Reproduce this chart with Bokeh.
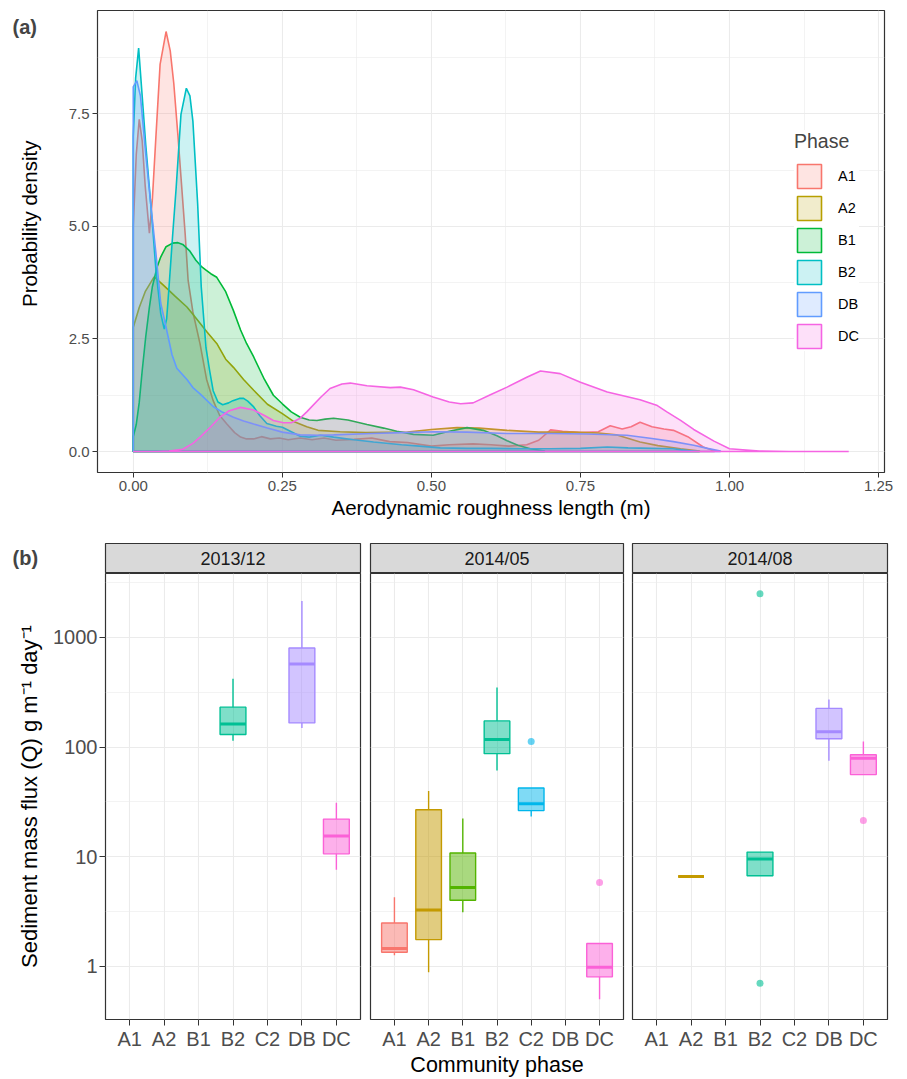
from bokeh.plotting import figure
from bokeh.models import (FixedTicker, Legend, LegendItem, Label, FactorRange, Range1d,
                          PrintfTickFormatter, ColumnDataSource)
from bokeh.layouts import column, row
from bokeh.embed import file_html
from bokeh.resources import INLINE

FONT = "Liberation Sans"
TICK_COL = "#4D4D4D"
FRAME_COL = "#333333"
GRID_COL = "#EBEBEB"

# ---------------- (a) density curves ----------------
density_phases = ["A1", "A2", "B1", "B2", "DB", "DC"]
density_colors = ["#F8766D", "#B79F00", "#00BA38", "#00BFC4", "#619CFF", "#F564E3"]

a1_x = [0.0, 0.005, 0.010, 0.015, 0.020, 0.027, 0.032, 0.038, 0.045, 0.055, 0.062, 0.068,
        0.075, 0.080, 0.087, 0.092, 0.100, 0.112, 0.123, 0.134, 0.145, 0.157, 0.170, 0.180,
        0.190, 0.202, 0.215, 0.230, 0.245, 0.26, 0.28, 0.30, 0.32, 0.34, 0.37, 0.40, 0.43,
        0.46, 0.50, 0.53, 0.57, 0.60, 0.63, 0.66, 0.68, 0.70, 0.72, 0.75, 0.78, 0.80, 0.82,
        0.835, 0.85, 0.87, 0.89, 0.906, 0.93, 0.956, 0.975]
a1_y = [5.0, 6.6, 7.38, 6.9, 5.9, 4.85, 5.6, 7.0, 8.6, 9.33, 8.9, 8.17,
        7.0, 6.1, 4.84, 3.8, 3.1, 2.39, 1.6, 1.13, 0.8, 0.61, 0.42, 0.32,
        0.28, 0.28, 0.33, 0.28, 0.30, 0.26, 0.30, 0.26, 0.30, 0.25, 0.27, 0.30, 0.22,
        0.20, 0.12, 0.15, 0.17, 0.15, 0.12, 0.15, 0.25, 0.48, 0.45, 0.42, 0.44, 0.57, 0.50,
        0.55, 0.65, 0.55, 0.50, 0.47, 0.33, 0.10, 0.01]

a2_x = [0.0, 0.01, 0.02, 0.035, 0.05, 0.07, 0.09, 0.10, 0.124, 0.14, 0.155, 0.168, 0.185,
        0.202, 0.225, 0.25, 0.27, 0.291, 0.31, 0.347, 0.39, 0.46, 0.50, 0.543, 0.58, 0.627,
        0.68, 0.738, 0.78, 0.81, 0.85, 0.88, 0.918, 0.95]
a2_y = [2.76, 3.2, 3.55, 3.88, 3.7, 3.45, 3.21, 3.05, 2.65, 2.4, 2.05, 1.87, 1.6,
        1.36, 1.05, 0.84, 0.66, 0.55, 0.47, 0.44, 0.42, 0.43, 0.49, 0.53, 0.52, 0.47,
        0.43, 0.43, 0.41, 0.37, 0.21, 0.13, 0.06, 0.01]

b1_x = [0.0, 0.005, 0.01, 0.015, 0.021, 0.027, 0.032, 0.04, 0.046, 0.055, 0.066, 0.075,
        0.083, 0.095, 0.105, 0.115, 0.122, 0.13, 0.14, 0.155, 0.168, 0.18, 0.19, 0.202,
        0.22, 0.235, 0.25, 0.265, 0.28, 0.295, 0.308, 0.322, 0.336, 0.36, 0.392, 0.42,
        0.442, 0.47, 0.503, 0.53, 0.56, 0.587, 0.61, 0.627, 0.645, 0.666, 0.69]
b1_y = [0.33, 0.6, 1.09, 1.8, 2.56, 3.2, 3.66, 4.1, 4.32, 4.55, 4.63, 4.64,
        4.6, 4.45, 4.25, 4.1, 4.03, 3.95, 3.87, 3.55, 3.13, 2.7, 2.4, 2.1,
        1.6, 1.25, 1.06, 0.88, 0.76, 0.70, 0.69, 0.72, 0.74, 0.70, 0.60, 0.52,
        0.45, 0.38, 0.36, 0.45, 0.53, 0.47, 0.35, 0.24, 0.14, 0.06, 0.01]

b2_x = [0.0, 0.004, 0.009, 0.016, 0.021, 0.027, 0.033, 0.038, 0.046, 0.052, 0.056, 0.06,
        0.066, 0.072, 0.08, 0.089, 0.095, 0.1, 0.108, 0.114, 0.122, 0.128, 0.134, 0.142,
        0.15, 0.16, 0.167, 0.178, 0.185, 0.192, 0.202, 0.212, 0.224, 0.24, 0.25, 0.265,
        0.28, 0.295, 0.314, 0.336, 0.37, 0.403, 0.45, 0.48, 0.515, 0.56, 0.6, 0.65, 0.7,
        0.75, 0.795, 0.83, 0.87, 0.905, 0.93, 0.95]
b2_y = [7.0, 8.3, 8.96, 7.71, 6.8, 5.87, 4.9, 4.03, 3.07, 2.72, 2.95, 3.66,
        4.8, 5.87, 7.49, 8.07, 7.9, 7.34, 5.5, 3.66, 2.3, 1.8, 1.35, 1.1,
        1.04, 1.08, 1.13, 1.18, 1.18, 1.12, 0.99, 0.8, 0.62, 0.56, 0.54, 0.44,
        0.34, 0.32, 0.36, 0.32, 0.26, 0.21, 0.15, 0.12, 0.08, 0.07, 0.07, 0.06, 0.06,
        0.07, 0.10, 0.08, 0.07, 0.06, 0.02, 0.0]

db_x = [0.0, 0.006, 0.012, 0.021, 0.03, 0.038, 0.046, 0.056, 0.065, 0.073, 0.09, 0.1,
        0.112, 0.134, 0.15, 0.168, 0.185, 0.202, 0.225, 0.25, 0.28, 0.31, 0.336, 0.4,
        0.45, 0.504, 0.56, 0.627, 0.7, 0.76, 0.828, 0.87, 0.906, 0.94, 0.963, 0.985]
db_y = [8.1, 8.24, 7.9, 6.6, 5.4, 4.4, 3.3, 2.7, 2.15, 1.85, 1.6, 1.42,
        1.28, 1.0, 0.87, 0.76, 0.68, 0.61, 0.52, 0.43, 0.37, 0.36, 0.37, 0.40,
        0.42, 0.44, 0.43, 0.40, 0.40, 0.39, 0.36, 0.29, 0.22, 0.14, 0.07, 0.01]

dc_x = [0.0, 0.04, 0.06, 0.083, 0.1, 0.112, 0.13, 0.145, 0.16, 0.18, 0.202, 0.22, 0.235,
        0.252, 0.265, 0.28, 0.291, 0.314, 0.33, 0.35, 0.364, 0.392, 0.431, 0.448, 0.47,
        0.503, 0.53, 0.549, 0.57, 0.599, 0.627, 0.66, 0.683, 0.716, 0.75, 0.795, 0.85,
        0.879, 0.895, 0.918, 0.94, 0.974, 1.0, 1.05, 1.1, 1.2]
dc_y = [0.0, 0.0, 0.01, 0.05, 0.18, 0.32, 0.55, 0.76, 0.9, 0.98, 0.92, 0.8, 0.69,
        0.64, 0.64, 0.74, 0.88, 1.2, 1.4, 1.5, 1.52, 1.46, 1.42, 1.43, 1.37,
        1.21, 1.1, 1.06, 1.08, 1.26, 1.43, 1.65, 1.79, 1.73, 1.54, 1.32, 1.15,
        1.02, 0.88, 0.69, 0.49, 0.23, 0.06, 0.01, 0.0, 0.0]

density_x = [a1_x, a2_x, b1_x, b2_x, db_x, dc_x]
density_y = [a1_y, a2_y, b1_y, b2_y, db_y, dc_y]

a_xticks = [0.0, 0.25, 0.5, 0.75, 1.0, 1.25]
a_xminor = [0.125, 0.375, 0.625, 0.875, 1.125]
a_yticks = [0.0, 2.5, 5.0, 7.5]
a_yminor = [1.25, 3.75, 6.25, 8.75]

# ---------------- (b) boxplots ----------------
phases = ["A1", "A2", "B1", "B2", "C2", "DB", "DC"]
phase_colors = ["#F8766D", "#C49A00", "#53B400", "#00C094", "#00B6EB", "#A58AFF", "#FB61D7"]
facet_titles = ["2013/12", "2014/05", "2014/08"]

f1_phase = ["B2", "DB", "DC"]
f1_low = [114, 149, 7.6]
f1_q1 = [130, 166, 10.6]
f1_med = [162, 573, 15.4]
f1_q3 = [231, 800, 22.0]
f1_high = [420, 2150, 31.0]
f1_out_phase = []
f1_out_val = []

f2_phase = ["A1", "A2", "B1", "B2", "C2", "DC"]
f2_low = [1.26, 0.88, 3.1, 61, 23.2, 0.50]
f2_q1 = [1.34, 1.75, 4.0, 87, 26.3, 0.80]
f2_med = [1.45, 3.25, 5.24, 117, 30.3, 0.98]
f2_q3 = [2.48, 26.8, 10.8, 173, 42.3, 1.61]
f2_high = [4.25, 39.6, 22.3, 349, 42.3, 1.61]
f2_out_phase = ["C2", "DC"]
f2_out_val = [112, 5.8]

f3_phase = ["A2", "B2", "DB", "DC"]
f3_low = [6.6, 6.7, 75, 56]
f3_q1 = [6.6, 6.7, 119, 56]
f3_med = [6.6, 9.5, 138, 79]
f3_q3 = [6.6, 11.0, 225, 85]
f3_high = [6.6, 11.0, 272, 112]
f3_out_phase = ["B2", "B2", "DC"]
f3_out_val = [2500, 0.70, 21.4]

b_yticks = [1, 10, 100, 1000]
b_yminor = [0.316, 3.16, 31.6, 316, 3162]


def side_figure(w, h):
    """A bare figure whose data units equal pixels, used to hold side texts."""
    s = figure(width=w, height=h, x_range=Range1d(0, w), y_range=Range1d(0, h),
               x_axis_location=None, y_axis_location=None, output_backend="svg",
               toolbar_location=None, min_border_left=0, min_border_right=0,
               min_border_top=0, min_border_bottom=0)
    s.grid.visible = False
    s.outline_line_color = None
    s.background_fill_color = "white"
    s.border_fill_color = "white"
    return s


# =============================== panel (a) ===============================
SIDE_A_W, A_H = 62, 522
side_a = side_figure(SIDE_A_W, A_H)
side_a.add_layout(Label(x=12, y=A_H - 19, text="(a)", text_font=FONT, text_font_style="bold",
                        text_font_size="20px", text_baseline="middle", text_align="left"))
side_a.add_layout(Label(x=29, y=A_H - 241, text="Probability density", angle=90,
                        angle_units="deg", text_font=FONT, text_font_size="20.5px",
                        text_baseline="middle", text_align="center", text_color="black"))

pa = figure(width=899 - SIDE_A_W, height=A_H, x_range=Range1d(-0.06, 1.26),
            y_range=Range1d(-0.4665, 9.797), output_backend="svg", toolbar_location=None,
            min_border_left=97 - SIDE_A_W, min_border_right=15, min_border_top=10,
            min_border_bottom=50)
pa.background_fill_color = "white"
pa.border_fill_color = "white"
pa.outline_line_color = FRAME_COL
pa.outline_line_width = 1.2

legend_items = []
for ph, col, xs, ys in zip(density_phases, density_colors, density_x, density_y):
    r = pa.patch(x=xs + [xs[-1], xs[0]], y=ys + [0, 0], fill_color=col, fill_alpha=0.2,
                 line_color=col, line_width=1.6)
    legend_items.append(LegendItem(label=ph, renderers=[r]))

pa.xaxis.ticker = FixedTicker(ticks=a_xticks, minor_ticks=a_xminor)
pa.yaxis.ticker = FixedTicker(ticks=a_yticks, minor_ticks=a_yminor)
pa.xaxis.formatter = PrintfTickFormatter(format="%.2f")
pa.yaxis.formatter = PrintfTickFormatter(format="%.1f")
pa.xaxis.axis_label = "Aerodynamic roughness length (m)"
for ax in (pa.xaxis, pa.yaxis):
    ax.axis_line_color = None
    ax.major_tick_line_color = FRAME_COL
    ax.major_tick_out = 5
    ax.major_tick_in = 0
    ax.minor_tick_line_color = None
    ax.major_label_text_font = FONT
    ax.major_label_text_font_size = "15px"
    ax.major_label_text_color = TICK_COL
    ax.major_label_standoff = 3
    ax.axis_label_text_font = FONT
    ax.axis_label_text_font_size = "20.5px"
    ax.axis_label_text_font_style = "normal"
    ax.axis_label_text_color = "black"
pa.xaxis.axis_label_standoff = 2
for g in (pa.xgrid, pa.ygrid):
    g.grid_line_color = GRID_COL
    g.grid_line_width = 1.1
    g.minor_grid_line_color = GRID_COL
    g.minor_grid_line_width = 0.6

legend = Legend(items=legend_items, title="Phase", location=(697, 121), padding=10, spacing=2,
                glyph_width=30, glyph_height=30, label_height=30, label_standoff=14,
                label_text_font=FONT, label_text_font_size="14.5px", label_text_color="black",
                title_text_font=FONT, title_text_font_size="19.5px", title_text_font_style="normal",
                title_standoff=8, border_line_color=None, background_fill_color="white",
                background_fill_alpha=1.0, margin=0)
pa.add_layout(legend)

# =============================== panel (b) ===============================
facets = [
    (f1_phase, f1_low, f1_q1, f1_med, f1_q3, f1_high, f1_out_phase, f1_out_val),
    (f2_phase, f2_low, f2_q1, f2_med, f2_q3, f2_high, f2_out_phase, f2_out_val),
    (f3_phase, f3_low, f3_q1, f3_med, f3_q3, f3_high, f3_out_phase, f3_out_val),
]
widths = [365, 262, 270]
borders_lr = [(105, 5), (5, 4), (5, 10)]
color_of = dict(zip(phases, phase_colors))

SIDE_B_W, STRIP_H = 50, 51
side_b = side_figure(SIDE_B_W, STRIP_H)
side_b.add_layout(Label(x=12, y=STRIP_H - 24, text="(b)", text_font=FONT, text_font_style="bold",
                        text_font_size="20px", text_baseline="middle", text_align="left"))

strips = [side_b]
panels = []
for i, (title, data, w, (bl, br)) in enumerate(zip(facet_titles, facets, widths, borders_lr)):
    sw = w - SIDE_B_W if i == 0 else w
    sbl = bl - SIDE_B_W if i == 0 else bl
    s = figure(width=sw, height=STRIP_H, x_range=Range1d(0, 1), y_range=Range1d(0, 1),
               output_backend="svg", toolbar_location=None,
               x_axis_location=None, y_axis_location=None,
               min_border_left=sbl, min_border_right=br, min_border_top=21, min_border_bottom=0)
    s.grid.visible = False
    s.background_fill_color = "#D9D9D9"
    s.border_fill_color = "white"
    s.outline_line_color = FRAME_COL
    s.outline_line_width = 1.2
    s.add_layout(Label(x=0.5, y=0.5, text=title, text_align="center", text_baseline="middle",
                       text_font=FONT, text_font_size="18px", text_color="#1A1A1A"))
    strips.append(s)

    ph, lo, q1, md, q3, hi, oph, oval = data
    f = figure(width=w, height=506,
               x_range=FactorRange(*phases, range_padding=0.2, range_padding_units="absolute"),
               y_range=Range1d(0.3266, 3828), y_axis_type="log",
               y_axis_location="left" if i == 0 else None,
               output_backend="svg", toolbar_location=None,
               min_border_left=bl, min_border_right=br, min_border_top=0, min_border_bottom=55)
    f.background_fill_color = "white"
    f.border_fill_color = "white"
    f.outline_line_color = FRAME_COL
    f.outline_line_width = 1.2

    cols = [color_of[p] for p in ph]
    src = ColumnDataSource(dict(x=ph, low=lo, q1=q1, med=md, q3=q3, high=hi, color=cols))
    f.segment(x0="x", y0="q3", x1="x", y1="high", line_color="color", line_width=1.4, source=src)
    f.segment(x0="x", y0="q1", x1="x", y1="low", line_color="color", line_width=1.4, source=src)
    f.vbar(x="x", top="q3", bottom="q1", width=0.75, fill_color="color", fill_alpha=0.5,
           line_color="color", line_width=1.4, source=src)
    f.rect(x="x", y="med", width=0.75, height=3, height_units="screen", fill_color="color",
           line_color=None, source=src)
    if oph:
        osrc = ColumnDataSource(dict(x=oph, y=oval, color=[color_of[p] for p in oph]))
        f.scatter(x="x", y="y", size=7, fill_color="color", line_color=None, fill_alpha=0.6,
                  source=osrc)

    ticker = FixedTicker(ticks=b_yticks, minor_ticks=b_yminor)
    f.ygrid.ticker = ticker
    if i == 0:
        f.yaxis.ticker = ticker
        f.yaxis.formatter = PrintfTickFormatter(format="%d")
        f.yaxis.axis_label = "Sediment mass flux (Q) g m\u207b\u00b9 day\u207b\u00b9"
    if i == 1:
        f.xaxis.axis_label = "Community phase"
    for ax in f.axis:
        ax.axis_line_color = None
        ax.major_tick_line_color = FRAME_COL
        ax.major_tick_out = 6
        ax.major_tick_in = 0
        ax.minor_tick_line_color = None
        ax.major_label_text_font = FONT
        ax.major_label_text_font_size = "20px"
        ax.major_label_text_color = TICK_COL
        ax.major_label_standoff = 2
        ax.axis_label_text_font = FONT
        ax.axis_label_text_font_size = "22px"
        ax.axis_label_text_font_style = "normal"
        ax.axis_label_text_color = "black"
        ax.axis_label_standoff = 8
    if i == 1:
        f.xaxis.axis_label_standoff = 0
        f.xaxis.axis_label_text_font_size = "21.5px"
    f.xgrid.grid_line_color = GRID_COL
    f.xgrid.grid_line_width = 1.1
    f.ygrid.grid_line_color = GRID_COL
    f.ygrid.grid_line_width = 1.1
    f.ygrid.minor_grid_line_color = GRID_COL
    f.ygrid.minor_grid_line_width = 0.6
    panels.append(f)

layout = column(row(side_a, pa), row(*strips), row(*panels))
open("out.html", "w").write(file_html(layout, INLINE))
